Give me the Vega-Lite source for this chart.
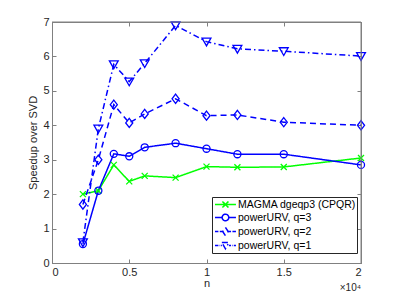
{
  "$schema": "https://vega.github.io/schema/vega-lite/v6.json",
  "width": 309,
  "height": 241,
  "autosize": "none",
  "padding": {"left": 52, "top": 22, "right": 38, "bottom": 36},
  "background": "white",
  "config": {
    "font": "Liberation Sans",
    "view": {"stroke": "#808080", "strokeWidth": 1},
    "axis": {
      "grid": false,
      "domainColor": "#808080",
      "tickColor": "#808080",
      "labelColor": "#262626",
      "titleColor": "#262626",
      "labelFontSize": 11,
      "titleFontSize": 11,
      "titleFontWeight": "normal",
      "tickSize": -4,
      "domainWidth": 1,
      "tickWidth": 1
    }
  },
  "title": {"text": "×10⁴", "orient": "bottom", "anchor": "end", "frame": "group", "fontSize": 10, "fontWeight": "normal", "color": "#262626", "offset": -5},
  "data": {
    "values": [
      {"n": 2000, "speedup": 2.0, "method": "MAGMA dgeqp3 (CPQR)"},
      {"n": 3000, "speedup": 2.1, "method": "MAGMA dgeqp3 (CPQR)"},
      {"n": 4000, "speedup": 2.85, "method": "MAGMA dgeqp3 (CPQR)"},
      {"n": 5000, "speedup": 2.37, "method": "MAGMA dgeqp3 (CPQR)"},
      {"n": 6000, "speedup": 2.53, "method": "MAGMA dgeqp3 (CPQR)"},
      {"n": 8000, "speedup": 2.48, "method": "MAGMA dgeqp3 (CPQR)"},
      {"n": 10000, "speedup": 2.8, "method": "MAGMA dgeqp3 (CPQR)"},
      {"n": 12000, "speedup": 2.78, "method": "MAGMA dgeqp3 (CPQR)"},
      {"n": 15000, "speedup": 2.79, "method": "MAGMA dgeqp3 (CPQR)"},
      {"n": 20000, "speedup": 3.05, "method": "MAGMA dgeqp3 (CPQR)"},
      {"n": 2000, "speedup": 0.55, "method": "powerURV, q=3"},
      {"n": 3000, "speedup": 2.1, "method": "powerURV, q=3"},
      {"n": 4000, "speedup": 3.17, "method": "powerURV, q=3"},
      {"n": 5000, "speedup": 3.1, "method": "powerURV, q=3"},
      {"n": 6000, "speedup": 3.36, "method": "powerURV, q=3"},
      {"n": 8000, "speedup": 3.48, "method": "powerURV, q=3"},
      {"n": 10000, "speedup": 3.32, "method": "powerURV, q=3"},
      {"n": 12000, "speedup": 3.16, "method": "powerURV, q=3"},
      {"n": 15000, "speedup": 3.16, "method": "powerURV, q=3"},
      {"n": 20000, "speedup": 2.85, "method": "powerURV, q=3"},
      {"n": 2000, "speedup": 1.7, "method": "powerURV, q=2"},
      {"n": 3000, "speedup": 3.0, "method": "powerURV, q=2"},
      {"n": 4000, "speedup": 4.6, "method": "powerURV, q=2"},
      {"n": 5000, "speedup": 4.07, "method": "powerURV, q=2"},
      {"n": 6000, "speedup": 4.33, "method": "powerURV, q=2"},
      {"n": 8000, "speedup": 4.77, "method": "powerURV, q=2"},
      {"n": 10000, "speedup": 4.28, "method": "powerURV, q=2"},
      {"n": 12000, "speedup": 4.3, "method": "powerURV, q=2"},
      {"n": 15000, "speedup": 4.09, "method": "powerURV, q=2"},
      {"n": 20000, "speedup": 4.0, "method": "powerURV, q=2"},
      {"n": 2000, "speedup": 0.6, "method": "powerURV, q=1"},
      {"n": 3000, "speedup": 3.9, "method": "powerURV, q=1"},
      {"n": 4000, "speedup": 5.77, "method": "powerURV, q=1"},
      {"n": 5000, "speedup": 5.27, "method": "powerURV, q=1"},
      {"n": 6000, "speedup": 5.8, "method": "powerURV, q=1"},
      {"n": 8000, "speedup": 6.9, "method": "powerURV, q=1"},
      {"n": 10000, "speedup": 6.43, "method": "powerURV, q=1"},
      {"n": 12000, "speedup": 6.22, "method": "powerURV, q=1"},
      {"n": 15000, "speedup": 6.15, "method": "powerURV, q=1"},
      {"n": 20000, "speedup": 6.01, "method": "powerURV, q=1"}
    ]
  },
  "layer": [
    {
      "mark": {"type": "line", "strokeWidth": 1.5},
      "encoding": {
        "x": {"field": "n", "type": "quantitative", "scale": {"domain": [0, 20000], "nice": false},
          "axis": {"orient": "bottom", "values": [0, 5000, 10000, 15000, 20000], "labelExpr": "datum.value / 10000", "title": "n", "labelPadding": 7, "titlePadding": 0}},
        "y": {"field": "speedup", "type": "quantitative", "scale": {"domain": [0, 7], "nice": false},
          "axis": {"orient": "left", "values": [0, 1, 2, 3, 4, 5, 6, 7], "title": "Speedup over SVD", "labelPadding": 7, "titlePadding": 4}},
        "color": {"field": "method", "type": "nominal",
          "scale": {"domain": ["MAGMA dgeqp3 (CPQR)", "powerURV, q=3", "powerURV, q=2", "powerURV, q=1"], "range": ["#00ff00", "#0000ff", "#0000ff", "#0000ff"]},
          "legend": {
            "orient": "none", "legendX": 160, "legendY": 175, "title": null,
            "padding": 1, "strokeColor": "#262626", "fillColor": "white", "cornerRadius": 0,
            "labelFontSize": 10.5, "labelColor": "#000000", "labelOffset": 12, "rowPadding": 0,
            "symbolSize": 121, "symbolStrokeWidth": 1.5,
            "encode": {
              "symbols": {
                "update": {
                  "shape": {"signal": "datum.value === 'MAGMA dgeqp3 (CPQR)' ? 'M-0.82,0H2.99M0.53,-0.55L1.63,0.55M0.53,0.55L1.63,-0.55' : datum.value === 'powerURV, q=3' ? 'M-0.82,0H0.48M1.68,0H2.99M0.48,0A0.6,0.6 0 1 0 1.68,0A0.6,0.6 0 1 0 0.48,0' : datum.value === 'powerURV, q=2' ? 'M-0.82,0H-0.2M0.05,0H0.58M1.58,0H2.1M2.35,0H2.99M1.08,-0.75L1.58,0L1.08,0.75L0.58,0Z' : 'M-0.82,0H-0.2M0.02,0H0.12M0.25,0H0.43M1.73,0H2.1M2.35,0H2.45M2.6,0H2.99M0.43,-0.55H1.73L1.08,0.6Z'"},
                  "fill": {"value": "transparent"},
                  "strokeDash": {"value": [1, 0]}
                }
              }
            }
          }},
        "strokeDash": {"field": "method", "type": "nominal",
          "scale": {"domain": ["MAGMA dgeqp3 (CPQR)", "powerURV, q=3", "powerURV, q=2", "powerURV, q=1"], "range": [[1, 0], [1, 0], [6, 4], [6, 3, 1.5, 3]]},
          "legend": null}
      }
    },
    {
      "transform": [{"filter": "datum.method === 'MAGMA dgeqp3 (CPQR)'"}],
      "mark": {"type": "point", "filled": false, "size": 50, "strokeWidth": 1.3, "opacity": 1, "color": "#00ff00", "shape": "M-0.85,-0.85L0.85,0.85M-0.85,0.85L0.85,-0.85"},
      "encoding": {
        "x": {"field": "n", "type": "quantitative", "scale": {"domain": [0, 20000], "nice": false},
          "axis": {"orient": "top", "values": [0, 5000, 10000, 15000, 20000], "labels": false, "title": null}},
        "y": {"field": "speedup", "type": "quantitative", "scale": {"domain": [0, 7], "nice": false},
          "axis": {"orient": "right", "values": [0, 1, 2, 3, 4, 5, 6, 7], "labels": false, "title": null}}
      }
    },
    {
      "transform": [{"filter": "datum.method === 'powerURV, q=3'"}],
      "mark": {"type": "point", "filled": false, "size": 50, "strokeWidth": 1.3, "opacity": 1, "color": "#0000ff", "shape": "circle"},
      "encoding": {
        "x": {"field": "n", "type": "quantitative", "axis": null},
        "y": {"field": "speedup", "type": "quantitative", "axis": null}
      }
    },
    {
      "transform": [{"filter": "datum.method === 'powerURV, q=2'"}],
      "mark": {"type": "point", "filled": false, "size": 50, "strokeWidth": 1.3, "opacity": 1, "color": "#0000ff", "shape": "M0,-1.3L1,0L0,1.3L-1,0Z"},
      "encoding": {
        "x": {"field": "n", "type": "quantitative", "axis": null},
        "y": {"field": "speedup", "type": "quantitative", "axis": null}
      }
    },
    {
      "transform": [{"filter": "datum.method === 'powerURV, q=1'"}],
      "mark": {"type": "point", "filled": false, "size": 50, "strokeWidth": 1.3, "opacity": 1, "color": "#0000ff", "shape": "M-1.25,-1H1.25L0,1.2Z"},
      "encoding": {
        "x": {"field": "n", "type": "quantitative", "axis": null},
        "y": {"field": "speedup", "type": "quantitative", "axis": null}
      }
    },
    {
      "data": {"values": [{"speedup": 7}]},
      "mark": {"type": "rule", "color": "#808080", "strokeWidth": 1},
      "encoding": {"y": {"field": "speedup", "type": "quantitative", "axis": null}}
    },
    {
      "data": {"values": [{"n": 20000}]},
      "mark": {"type": "rule", "color": "#808080", "strokeWidth": 1},
      "encoding": {"x": {"field": "n", "type": "quantitative", "axis": null}}
    }
  ],
  "resolve": {"axis": {"x": "independent", "y": "independent"}}
}
